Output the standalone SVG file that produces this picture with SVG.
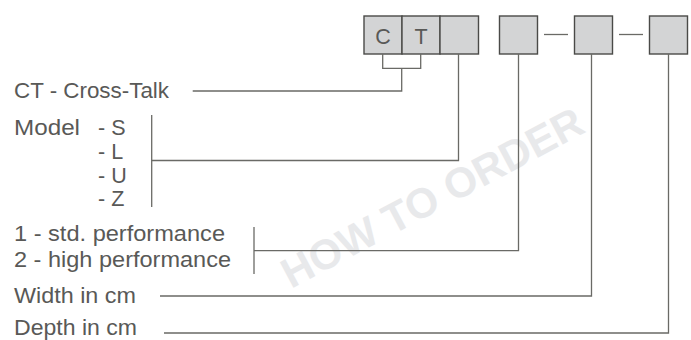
<svg xmlns="http://www.w3.org/2000/svg" width="691" height="340" viewBox="0 0 691 340">
<style>
.bg{fill:#ffffff}
.box{fill:#d3d4d5;stroke:#4a4a48;stroke-width:1.4}
.ln{fill:none;stroke:#6a6a66;stroke-width:1.3}
.t{font-family:"Liberation Sans",Arial,sans-serif;font-size:21.5px;fill:#595957}
.wm{font-family:"Liberation Sans",Arial,sans-serif;font-size:42px;font-weight:bold;fill:#e8e9eb}
</style>
<rect class="bg" x="0" y="0" width="691" height="340"/>
<text class="wm" x="432" y="212" text-anchor="middle" transform="rotate(-28 432 197)">HOW TO ORDER</text>
<g id="code">
  <g id="box-c"><rect class="box" x="364" y="16" width="38" height="38"/><text class="t" x="383" y="43.5" text-anchor="middle">C</text></g>
  <g id="box-t"><rect class="box" x="402" y="16" width="38" height="38"/><text class="t" x="421" y="43.5" text-anchor="middle">T</text></g>
  <g id="box-model"><rect class="box" x="440" y="16" width="38.5" height="38"/></g>
  <g id="box-perf"><rect class="box" x="499.5" y="16" width="38" height="38"/></g>
  <g id="box-width"><rect class="box" x="574.5" y="16" width="38" height="38"/></g>
  <g id="box-depth"><rect class="box" x="649.5" y="16" width="38" height="38"/></g>
  <g id="dashes">
    <line class="ln" x1="544" y1="34.5" x2="568" y2="34.5"/>
    <line class="ln" x1="619" y1="34.5" x2="643" y2="34.5"/>
  </g>
</g>
<g id="label-ct"><text class="t" x="14" y="98" textLength="155" lengthAdjust="spacingAndGlyphs">CT - Cross-Talk</text></g>
<g id="label-model">
  <text class="t" x="14" y="135" textLength="66" lengthAdjust="spacingAndGlyphs">Model</text>
  <text class="t" x="98" y="135">- S</text>
  <text class="t" x="98" y="159">- L</text>
  <text class="t" x="98" y="182.5">- U</text>
  <text class="t" x="98" y="206">- Z</text>
</g>
<g id="label-perf">
  <text class="t" x="14" y="240.5" textLength="211" lengthAdjust="spacingAndGlyphs">1 - std. performance</text>
  <text class="t" x="14" y="266.5" textLength="217" lengthAdjust="spacingAndGlyphs">2 - high performance</text>
</g>
<g id="label-width"><text class="t" x="14" y="302.5" textLength="122" lengthAdjust="spacingAndGlyphs">Width in cm</text></g>
<g id="label-depth"><text class="t" x="14" y="335" textLength="123" lengthAdjust="spacingAndGlyphs">Depth in cm</text></g>
<g id="connectors">
  <polyline class="ln" points="382.7,54 382.7,68.3 420.7,68.3 420.7,54"/>
  <polyline class="ln" points="401.7,68.3 401.7,91 192.7,91"/>
  <polyline class="ln" points="458.5,54 458.5,160.5 151.7,160.5"/>
  <line class="ln" x1="151.7" y1="115" x2="151.7" y2="207"/>
  <polyline class="ln" points="518.5,54 518.5,250.7 254,250.7"/>
  <line class="ln" x1="254" y1="227" x2="254" y2="274"/>
  <polyline class="ln" points="591.5,54 591.5,296 160,296"/>
  <polyline class="ln" points="668.5,54 668.5,333 164,333"/>
</g>
</svg>
